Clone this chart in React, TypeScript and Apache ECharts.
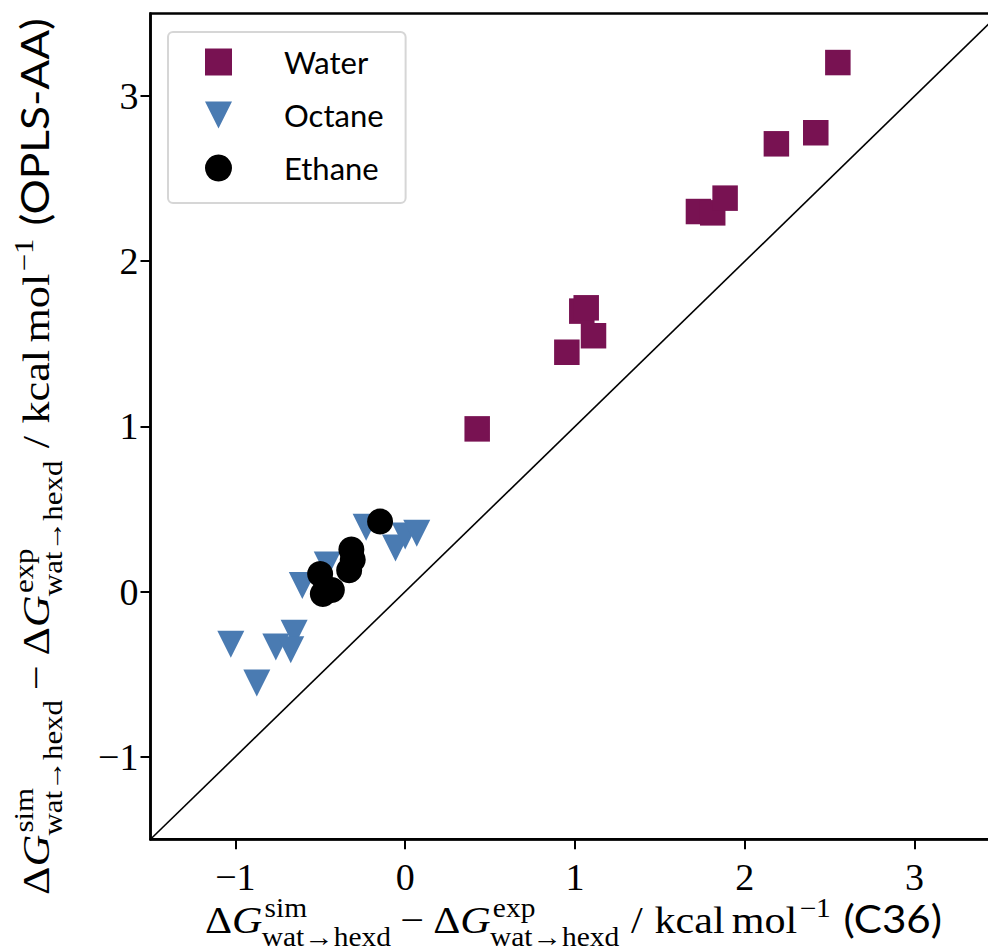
import React, { useEffect, useRef } from "react";
import * as echarts from "echarts";

// ---------- data ----------
const SERIES_NAMES = ["Water", "Octane", "Ethane"];
const WATER: [number, number][] = [
  [0.424, 0.985],
  [0.952, 1.449],
  [1.04, 1.698],
  [1.066, 1.718],
  [1.109, 1.549],
  [1.727, 2.301],
  [1.811, 2.293],
  [1.884, 2.382],
  [2.186, 2.711],
  [2.418, 2.778],
  [2.548, 3.203],
];
const OCTANE: [number, number][] = [
  [-1.027, -0.319],
  [-0.874, -0.554],
  [-0.762, -0.336],
  [-0.654, -0.253],
  [-0.674, -0.353],
  [-0.606, 0.036],
  [-0.459, 0.161],
  [-0.23, 0.389],
  [-0.057, 0.264],
  [0.0, 0.337],
  [0.068, 0.353],
];
const ETHANE: [number, number][] = [
  [-0.148, 0.424],
  [-0.317, 0.254],
  [-0.309, 0.193],
  [-0.33, 0.129],
  [-0.501, 0.107],
  [-0.485, -0.015],
  [-0.432, 0.01],
];
const X_TICKS = [-1, 0, 1, 2, 3];
const Y_TICKS = [-1, 0, 1, 2, 3];
const AXIS_MIN = -1.5;
const AXIS_MAX = 3.5;
const DIAGONAL: [number, number][] = [
  [AXIS_MIN, AXIS_MIN],
  [AXIS_MAX, AXIS_MAX],
];

// ---------- styling ----------
const SERIF = '"Liberation Serif", "DejaVu Serif", serif';
const SANS = 'Lato, "DejaVu Sans", sans-serif';
const WATER_COLOR = "#781252";
const OCTANE_COLOR = "#4a7bb2";
const ETHANE_COLOR = "#000000";
const TRI_DOWN = "path://M0,0L2,0L1,2Z";

const fmt = (v: number) => (v < 0 ? "\u2212" + Math.abs(v) : String(v));

type Tok =
  | { t: string; it?: boolean; sans?: boolean }
  | { sp: number }
  | { sup: string; sub?: string };

function central(family: string) {
  return family === SANS ? 0.387 : 0.3375;
}

function buildMath(tokens: Tok[], F: number) {
  const canvas = document.createElement("canvas");
  const ctx = canvas.getContext("2d")!;
  const children: any[] = [];
  let x = 0;
  const put = (t: string, px: number, size: number, family: string, italic: boolean, rise: number) => {
    ctx.font = `${italic ? "italic " : ""}${size}px ${family}`;
    const w = ctx.measureText(t).width;
    children.push({
      type: "text",
      x: px,
      y: -rise - central(family) * size,
      silent: true,
      style: {
        text: t,
        fontSize: size,
        fontFamily: family,
        fontStyle: italic ? "italic" : "normal",
        fill: "#000",
        align: "left",
        verticalAlign: "middle",
        textAlign: "left",
        textVerticalAlign: "middle",
      },
    });
    return w;
  };
  const s = 0.7 * F;
  for (const tk of tokens) {
    if ("sp" in tk) {
      x += tk.sp * F;
    } else if ("sup" in tk) {
      const w1 = put(tk.sup, x + 0.05 * F, s, SERIF, false, 0.42 * F) + 0.05 * F;
      const w2 = tk.sub ? put(tk.sub, x - 0.02 * F, s, SERIF, false, -0.33 * F) - 0.02 * F : 0;
      x += Math.max(w1, w2);
    } else {
      const fam = tk.sans ? SANS : SERIF;
      x += put(tk.t, x, F, fam, !!tk.it, 0);
    }
  }
  return { children, width: x };
}

const deltaG = (sup: string): Tok[] => [
  { t: "\u0394" },
  { t: "G", it: true },
  { sup, sub: "wat\u2192hexd" },
];
const commonTail: Tok[] = [
  { sp: 0.28 },
  { t: "/" },
  { sp: 0.28 },
  { t: "kcal" },
  { sp: 0.17 },
  { t: "mol" },
  { sup: "\u22121" },
  { sp: 0.3 },
];
const X_TITLE: Tok[] = [
  ...deltaG("sim"),
  { sp: 0.22 },
  { t: "\u2212" },
  { sp: 0.22 },
  ...deltaG("exp"),
  ...commonTail,
  { t: "(C36)", sans: true },
];
const Y_TITLE: Tok[] = [
  ...deltaG("sim"),
  { sp: 0.22 },
  { t: "\u2212" },
  { sp: 0.22 },
  ...deltaG("exp"),
  ...commonTail,
  { t: "(OPLS-AA)", sans: true },
];

export default function App() {
  const ref = useRef<HTMLDivElement>(null);
  useEffect(() => {
    if (!ref.current) return;
    const chart = echarts.init(ref.current, null, { renderer: "svg" });

    const F = 38;
    const xt = buildMath(X_TITLE, F);
    const yt = buildMath(Y_TITLE, F);
    const X_TITLE_LEN = 737;
    const Y_TITLE_LEN = 877;

    const axisCommon = {
      type: "value" as const,
      min: AXIS_MIN,
      max: AXIS_MAX,
      splitLine: { show: false },
      axisLine: { show: true, onZero: false, lineStyle: { color: "#000", width: 2.5 } },
    };

    chart.setOption({
      animation: false,
      backgroundColor: "#fff",
      textStyle: { fontFamily: SERIF },
      grid: {
        left: 150.5,
        top: 13.5,
        width: 849,
        height: 825.8,
        show: true,
        borderColor: "#000",
        borderWidth: 2.5,
        backgroundColor: "transparent",
        containLabel: false,
        outerBoundsMode: "none",
      },
      xAxis: {
        ...axisCommon,
        axisTick: {
          show: true,
          customValues: X_TICKS,
          length: 10,
          lineStyle: { color: "#000", width: 2 },
        },
        axisLabel: {
          customValues: X_TICKS,
          formatter: fmt,
          fontFamily: SERIF,
          fontSize: 38,
          color: "#000",
          margin: 19,
        },
      },
      yAxis: {
        ...axisCommon,
        axisTick: {
          show: true,
          customValues: Y_TICKS,
          length: 10,
          lineStyle: { color: "#000", width: 2 },
        },
        axisLabel: {
          customValues: Y_TICKS,
          formatter: fmt,
          fontFamily: SERIF,
          fontSize: 38,
          color: "#000",
          margin: 12,
        },
      },
      legend: {
        orient: "vertical",
        left: 168,
        top: 32,
        padding: [13, 22, 18, 37],
        itemWidth: 27,
        itemHeight: 27,
        itemGap: 19,
        borderColor: "#d6d6d6",
        borderWidth: 2,
        borderRadius: 5,
        backgroundColor: "rgba(255,255,255,0.8)",
        formatter: (name: string) => `{p|}{t|${name}}`,
        textStyle: {
          fontFamily: SANS,
          fontSize: 31,
          color: "#000",
          lineHeight: 34,
          rich: {
            p: { width: 47, lineHeight: 34 },
            t: { fontFamily: SANS, fontSize: 31, color: "#000", lineHeight: 34 },
          },
        },
        data: [
          { name: SERIES_NAMES[0], icon: "rect" },
          { name: SERIES_NAMES[1], icon: TRI_DOWN },
          { name: SERIES_NAMES[2], icon: "circle" },
        ],
      },
      series: [
        {
          type: "line",
          name: "diagonal",
          data: DIAGONAL,
          showSymbol: false,
          symbol: "none",
          silent: true,
          lineStyle: { color: "#000", width: 1.6 },
          z: 1,
        },
        {
          type: "scatter",
          name: SERIES_NAMES[0],
          data: WATER,
          symbol: "rect",
          symbolSize: 25.5,
          itemStyle: { color: WATER_COLOR, opacity: 1 },
          z: 2,
        },
        {
          type: "scatter",
          name: SERIES_NAMES[1],
          data: OCTANE,
          symbol: TRI_DOWN,
          symbolSize: [27, 27],
          itemStyle: { color: OCTANE_COLOR, opacity: 1 },
          z: 3,
        },
        {
          type: "scatter",
          name: SERIES_NAMES[2],
          data: ETHANE,
          symbol: "circle",
          symbolSize: 26,
          itemStyle: { color: ETHANE_COLOR, opacity: 1 },
          z: 4,
        },
      ],
      graphic: [
        {
          type: "group",
          x: 205,
          y: 933,
          scaleX: X_TITLE_LEN / xt.width,
          children: xt.children,
        },
        {
          type: "group",
          x: 49,
          y: 895,
          rotation: Math.PI / 2,
          scaleX: Y_TITLE_LEN / yt.width,
          children: yt.children,
        },
      ],
    });
    return () => chart.dispose();
  }, []);
  return (
    <div
      ref={ref}
      style={{ position: "absolute", left: 0, top: 0, width: 988, height: 952 }}
    />
  );
}
